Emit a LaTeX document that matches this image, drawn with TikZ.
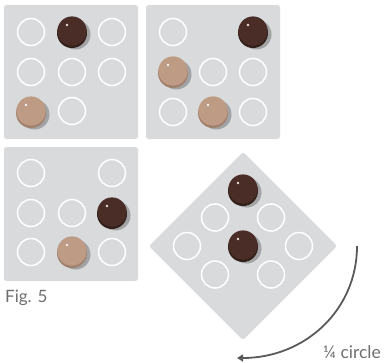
\documentclass[tikz,border=0pt]{standalone}
\usepackage{fontspec}
\setmainfont{Lato}
\usetikzlibrary{arrows.meta}
\definecolor{boardc}{HTML}{D9DADB}
\definecolor{shadowc}{HTML}{A2A3A5}
\definecolor{darktop}{HTML}{4A2D26}
\definecolor{darkside}{HTML}{32201B}
\definecolor{lighttop}{HTML}{BE9B85}
\definecolor{lightside}{HTML}{A1806C}
\definecolor{arrowc}{HTML}{595A5C}
\definecolor{textc}{HTML}{6D6E70}
\tikzset{
  board/.style={fill=boardc, draw=none, rounded corners=2.5pt},
  ring/.style={draw=white, line width=1.5pt},
  label/.style={text=textc, inner sep=0pt, anchor=base west},
  turnarrow/.style={draw=arrowc, line width=1.8pt, -{Triangle[length=6pt,width=7pt]}}
}
\newcommand{\gring}[2]{\draw[ring] (#1,#2) circle[radius=13.5pt];}
\newcommand{\gpiece}[4]{%
  \fill[shadowc] (#1+3.5,#2+3.5) circle[radius=15pt];
  \fill[#4] (#1,#2+2) circle[radius=15pt];
  \fill[#3] (#1,#2) circle[radius=14.6pt];
  \fill[white!85!#3] (#1-5,#2-6) circle[radius=1.4pt];}
\begin{document}
\begin{tikzpicture}[x=1pt,y=-1pt]
\useasboundingbox (0,0) rectangle (387,362);
% board 1
\fill[board] (4,5) rectangle (138,139);
\gring{31}{32}\gring{112}{32}
\gring{31}{72}\gring{72}{72}\gring{112}{72}
\gring{72}{111}
\gpiece{72}{31}{darktop}{darkside}
\gpiece{31}{111}{lighttop}{lightside}
% board 2
\fill[board] (146,5) rectangle (280,139);
\gring{173}{32}
\gring{213}{72}\gring{253}{72}
\gring{173}{112}\gring{253}{112}
\gpiece{253}{31}{darktop}{darkside}
\gpiece{173}{71}{lighttop}{lightside}
\gpiece{213}{111}{lighttop}{lightside}
% board 3
\fill[board] (4,147) rectangle (138,281);
\gring{31}{173}\gring{112}{173}
\gring{31}{213}\gring{72}{213}
\gring{31}{252}\gring{112}{252}
\gpiece{112}{212}{darktop}{darkside}
\gpiece{72}{251}{lighttop}{lightside}
% rotated board
\fill[board] (243,152) -- (337,246) -- (243,340) -- (149,246) -- cycle;
\gring{215}{217.5}\gring{271}{217.5}
\gring{187}{246}\gring{299}{246}
\gring{215}{274.5}\gring{271}{274.5}
\gpiece{243}{189}{darktop}{darkside}
\gpiece{243}{245}{darktop}{darkside}
% arrow
\coordinate (arrowstart) at (357,246);
\coordinate (arrowend) at (237,358);
\draw[turnarrow] (arrowstart) .. controls (357,310) and (305,358) .. (arrowend);
% labels
\node[label, font=\fontsize{17}{17}\selectfont] (figlabel) at (5,302) {Fig. 5};
\node[label, font=\fontsize{17.5}{17.5}\selectfont] (turnlabel) at (323,358) {¼ circle};
\end{tikzpicture}
\end{document}
